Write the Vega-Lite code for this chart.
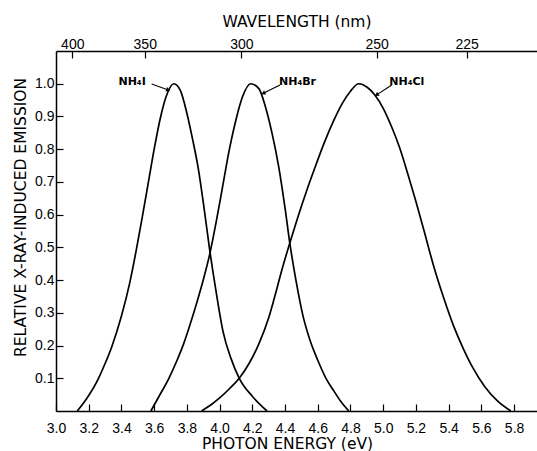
{
  "$schema": "https://vega.github.io/schema/vega-lite/v6.json",
  "width": 481,
  "height": 360,
  "autosize": {"type": "none"},
  "padding": {"left": 56, "top": 51, "right": 0, "bottom": 40},
  "background": "white",
  "config": {
    "view": {"stroke": null},
    "axis": {
      "domainColor": "black",
      "domainWidth": 1.5,
      "tickColor": "black",
      "tickWidth": 1.2,
      "tickSize": -7,
      "grid": false,
      "labelFont": "Liberation Sans",
      "labelFontSize": 14,
      "labelColor": "black",
      "titleFont": "DejaVu Sans",
      "titleFontSize": 15.5,
      "titleFontWeight": "normal",
      "titleColor": "black"
    }
  },
  "datasets": {
    "curves": [
      {"compound": "NH4I", "energy": 3.13, "emission": 0.0},
      {"compound": "NH4I", "energy": 3.19, "emission": 0.04},
      {"compound": "NH4I", "energy": 3.26, "emission": 0.1},
      {"compound": "NH4I", "energy": 3.3, "emission": 0.145},
      {"compound": "NH4I", "energy": 3.34, "emission": 0.195},
      {"compound": "NH4I", "energy": 3.4, "emission": 0.29},
      {"compound": "NH4I", "energy": 3.45, "emission": 0.39},
      {"compound": "NH4I", "energy": 3.49, "emission": 0.49},
      {"compound": "NH4I", "energy": 3.53, "emission": 0.6},
      {"compound": "NH4I", "energy": 3.565, "emission": 0.7},
      {"compound": "NH4I", "energy": 3.6, "emission": 0.8},
      {"compound": "NH4I", "energy": 3.64, "emission": 0.9},
      {"compound": "NH4I", "energy": 3.68, "emission": 0.97},
      {"compound": "NH4I", "energy": 3.72, "emission": 1.0},
      {"compound": "NH4I", "energy": 3.76, "emission": 0.98},
      {"compound": "NH4I", "energy": 3.8, "emission": 0.91},
      {"compound": "NH4I", "energy": 3.835, "emission": 0.83},
      {"compound": "NH4I", "energy": 3.87, "emission": 0.74},
      {"compound": "NH4I", "energy": 3.905, "emission": 0.62},
      {"compound": "NH4I", "energy": 3.94, "emission": 0.49},
      {"compound": "NH4I", "energy": 3.98, "emission": 0.36},
      {"compound": "NH4I", "energy": 4.02, "emission": 0.245},
      {"compound": "NH4I", "energy": 4.07, "emission": 0.16},
      {"compound": "NH4I", "energy": 4.12, "emission": 0.1},
      {"compound": "NH4I", "energy": 4.2, "emission": 0.045},
      {"compound": "NH4I", "energy": 4.29, "emission": 0.0},
      {"compound": "NH4Br", "energy": 3.58, "emission": 0.0},
      {"compound": "NH4Br", "energy": 3.63, "emission": 0.045},
      {"compound": "NH4Br", "energy": 3.69, "emission": 0.1},
      {"compound": "NH4Br", "energy": 3.74, "emission": 0.155},
      {"compound": "NH4Br", "energy": 3.78, "emission": 0.205},
      {"compound": "NH4Br", "energy": 3.82, "emission": 0.265},
      {"compound": "NH4Br", "energy": 3.86, "emission": 0.33},
      {"compound": "NH4Br", "energy": 3.9, "emission": 0.4},
      {"compound": "NH4Br", "energy": 3.94, "emission": 0.48},
      {"compound": "NH4Br", "energy": 3.98, "emission": 0.58},
      {"compound": "NH4Br", "energy": 4.02, "emission": 0.69},
      {"compound": "NH4Br", "energy": 4.06, "emission": 0.8},
      {"compound": "NH4Br", "energy": 4.1, "emission": 0.89},
      {"compound": "NH4Br", "energy": 4.14, "emission": 0.96},
      {"compound": "NH4Br", "energy": 4.19, "emission": 1.0},
      {"compound": "NH4Br", "energy": 4.24, "emission": 0.985},
      {"compound": "NH4Br", "energy": 4.28, "emission": 0.93},
      {"compound": "NH4Br", "energy": 4.32, "emission": 0.85},
      {"compound": "NH4Br", "energy": 4.36, "emission": 0.75},
      {"compound": "NH4Br", "energy": 4.4, "emission": 0.62},
      {"compound": "NH4Br", "energy": 4.43, "emission": 0.51},
      {"compound": "NH4Br", "energy": 4.47, "emission": 0.39},
      {"compound": "NH4Br", "energy": 4.51, "emission": 0.29},
      {"compound": "NH4Br", "energy": 4.55, "emission": 0.22},
      {"compound": "NH4Br", "energy": 4.6, "emission": 0.155},
      {"compound": "NH4Br", "energy": 4.65, "emission": 0.1},
      {"compound": "NH4Br", "energy": 4.7, "emission": 0.06},
      {"compound": "NH4Br", "energy": 4.74, "emission": 0.03},
      {"compound": "NH4Br", "energy": 4.79, "emission": 0.0},
      {"compound": "NH4Cl", "energy": 3.89, "emission": 0.0},
      {"compound": "NH4Cl", "energy": 3.95, "emission": 0.02},
      {"compound": "NH4Cl", "energy": 4.0, "emission": 0.04},
      {"compound": "NH4Cl", "energy": 4.06, "emission": 0.068},
      {"compound": "NH4Cl", "energy": 4.12, "emission": 0.1},
      {"compound": "NH4Cl", "energy": 4.18, "emission": 0.145},
      {"compound": "NH4Cl", "energy": 4.24, "emission": 0.205},
      {"compound": "NH4Cl", "energy": 4.3, "emission": 0.285},
      {"compound": "NH4Cl", "energy": 4.34, "emission": 0.355},
      {"compound": "NH4Cl", "energy": 4.38, "emission": 0.43},
      {"compound": "NH4Cl", "energy": 4.43, "emission": 0.515},
      {"compound": "NH4Cl", "energy": 4.48, "emission": 0.595},
      {"compound": "NH4Cl", "energy": 4.53, "emission": 0.67},
      {"compound": "NH4Cl", "energy": 4.58, "emission": 0.74},
      {"compound": "NH4Cl", "energy": 4.64, "emission": 0.82},
      {"compound": "NH4Cl", "energy": 4.7, "emission": 0.89},
      {"compound": "NH4Cl", "energy": 4.75, "emission": 0.94},
      {"compound": "NH4Cl", "energy": 4.8, "emission": 0.977},
      {"compound": "NH4Cl", "energy": 4.85, "emission": 1.0},
      {"compound": "NH4Cl", "energy": 4.9, "emission": 0.99},
      {"compound": "NH4Cl", "energy": 4.95, "emission": 0.965},
      {"compound": "NH4Cl", "energy": 5.0, "emission": 0.925},
      {"compound": "NH4Cl", "energy": 5.05, "emission": 0.87},
      {"compound": "NH4Cl", "energy": 5.1, "emission": 0.805},
      {"compound": "NH4Cl", "energy": 5.15, "emission": 0.725},
      {"compound": "NH4Cl", "energy": 5.2, "emission": 0.64},
      {"compound": "NH4Cl", "energy": 5.25, "emission": 0.55},
      {"compound": "NH4Cl", "energy": 5.31, "emission": 0.44},
      {"compound": "NH4Cl", "energy": 5.37, "emission": 0.345},
      {"compound": "NH4Cl", "energy": 5.43, "emission": 0.26},
      {"compound": "NH4Cl", "energy": 5.49, "emission": 0.19},
      {"compound": "NH4Cl", "energy": 5.55, "emission": 0.13},
      {"compound": "NH4Cl", "energy": 5.62, "emission": 0.075},
      {"compound": "NH4Cl", "energy": 5.7, "emission": 0.03},
      {"compound": "NH4Cl", "energy": 5.78, "emission": 0.0}
    ],
    "labels": [
      {"compound": "NH4I", "text": "NH₄I", "energy": 3.465, "emission": 1.005},
      {"compound": "NH4Br", "text": "NH₄Br", "energy": 4.476, "emission": 1.005},
      {"compound": "NH4Cl", "text": "NH₄Cl", "energy": 5.144, "emission": 1.005}
    ],
    "arrows": [
      {"compound": "NH4I", "x1": 3.585, "y1": 0.999, "x2": 3.686, "y2": 0.981},
      {"compound": "NH4Br", "x1": 4.369, "y1": 0.996, "x2": 4.267, "y2": 0.971},
      {"compound": "NH4Cl", "x1": 5.052, "y1": 0.996, "x2": 4.96, "y2": 0.966}
    ]
  },
  "resolve": {"axis": {"x": "independent"}},
  "layer": [
    {
      "data": {"name": "curves"},
      "mark": {"type": "line", "interpolate": "monotone", "stroke": "black", "strokeWidth": 1.7},
      "encoding": {
        "x": {
          "field": "energy", "type": "quantitative",
          "scale": {"domain": [3.0, 5.94], "nice": false, "zero": false},
          "axis": {
            "orient": "bottom",
            "values": [3.0, 3.2, 3.4, 3.6, 3.8, 4.0, 4.2, 4.4, 4.6, 4.8, 5.0, 5.2, 5.4, 5.6, 5.8],
            "format": ".1f",
            "labelPadding": 17,
            "labelFlush": false,
            "labelOverlap": false,
            "title": "PHOTON ENERGY (eV)",
            "titleX": 231,
            "titleY": 37,
            "titleBaseline": "alphabetic"
          }
        },
        "y": {
          "field": "emission", "type": "quantitative",
          "scale": {"domain": [0, 1.1], "nice": false},
          "axis": {"values": [0.1, 0.2, 0.3, 0.4, 0.5, 0.6, 0.7, 0.8, 0.9, 1.0], "format": ".1f", "labelPadding": 9, "title": "RELATIVE X-RAY-INDUCED EMISSION", "titleAngle": -90, "titleX": -36, "titleY": 166, "titleAlign": "center", "titleBaseline": "middle"}
        },
        "detail": {"field": "compound"}
      }
    },
    {
      "data": {"name": "arrows"},
      "mark": {"type": "rule", "stroke": "black", "strokeWidth": 1.1},
      "encoding": {
        "x": {
          "field": "x1", "type": "quantitative",
          "scale": {"domain": [3.0, 5.94], "nice": false, "zero": false},
          "axis": {
            "orient": "top",
            "values": [3.0996, 3.5424, 4.1328, 4.9594, 5.5104],
            "labelExpr": "format(1239.84 / datum.value, '.0f')",
            "labelPadding": 7,
            "labelFlush": false,
            "title": "WAVELENGTH (nm)",
            "titleY": -25,
            "titleBaseline": "alphabetic"
          }
        },
        "y": {"field": "y1", "type": "quantitative", "scale": {"domain": [0, 1.1], "nice": false},
          "axis": {"values": [0.1, 0.2, 0.3, 0.4, 0.5, 0.6, 0.7, 0.8, 0.9, 1.0], "format": ".1f", "labelPadding": 9, "title": "RELATIVE X-RAY-INDUCED EMISSION", "titleAngle": -90, "titleX": -36, "titleY": 166, "titleAlign": "center", "titleBaseline": "middle"}},
        "x2": {"field": "x2"},
        "y2": {"field": "y2"}
      }
    },
    {
      "data": {"name": "labels"},
      "mark": {"type": "text", "font": "DejaVu Sans", "fontSize": 11, "fontWeight": "bold", "fill": "black", "align": "center", "baseline": "middle"},
      "encoding": {
        "x": {"field": "energy", "type": "quantitative", "scale": {"domain": [3.0, 5.94], "nice": false, "zero": false}, "axis": null},
        "y": {"field": "emission", "type": "quantitative", "scale": {"domain": [0, 1.1], "nice": false},
          "axis": {"values": [0.1, 0.2, 0.3, 0.4, 0.5, 0.6, 0.7, 0.8, 0.9, 1.0], "format": ".1f", "labelPadding": 9, "title": "RELATIVE X-RAY-INDUCED EMISSION", "titleAngle": -90, "titleX": -36, "titleY": 166, "titleAlign": "center", "titleBaseline": "middle"}},
        "text": {"field": "text"}
      }
    },
    {
      "data": {"name": "arrows"},
      "transform": [{"filter": "datum.compound === 'NH4I'"}],
      "mark": {"type": "point", "shape": "triangle-right", "filled": true, "fill": "black", "size": 22, "angle": 20, "opacity": 1},
      "encoding": {
        "x": {"field": "x2", "type": "quantitative", "scale": {"domain": [3.0, 5.94], "nice": false, "zero": false}, "axis": null},
        "y": {"field": "y2", "type": "quantitative", "scale": {"domain": [0, 1.1], "nice": false},
          "axis": {"values": [0.1, 0.2, 0.3, 0.4, 0.5, 0.6, 0.7, 0.8, 0.9, 1.0], "format": ".1f", "labelPadding": 9, "title": "RELATIVE X-RAY-INDUCED EMISSION", "titleAngle": -90, "titleX": -36, "titleY": 166, "titleAlign": "center", "titleBaseline": "middle"}}
      }
    },
    {
      "data": {"name": "arrows"},
      "transform": [{"filter": "datum.compound === 'NH4Br'"}],
      "mark": {"type": "point", "shape": "triangle-right", "filled": true, "fill": "black", "size": 22, "angle": 153, "opacity": 1},
      "encoding": {
        "x": {"field": "x2", "type": "quantitative", "scale": {"domain": [3.0, 5.94], "nice": false, "zero": false}, "axis": null},
        "y": {"field": "y2", "type": "quantitative", "scale": {"domain": [0, 1.1], "nice": false},
          "axis": {"values": [0.1, 0.2, 0.3, 0.4, 0.5, 0.6, 0.7, 0.8, 0.9, 1.0], "format": ".1f", "labelPadding": 9, "title": "RELATIVE X-RAY-INDUCED EMISSION", "titleAngle": -90, "titleX": -36, "titleY": 166, "titleAlign": "center", "titleBaseline": "middle"}}
      }
    },
    {
      "data": {"name": "arrows"},
      "transform": [{"filter": "datum.compound === 'NH4Cl'"}],
      "mark": {"type": "point", "shape": "triangle-right", "filled": true, "fill": "black", "size": 22, "angle": 146, "opacity": 1},
      "encoding": {
        "x": {"field": "x2", "type": "quantitative", "scale": {"domain": [3.0, 5.94], "nice": false, "zero": false}, "axis": null},
        "y": {"field": "y2", "type": "quantitative", "scale": {"domain": [0, 1.1], "nice": false},
          "axis": {"values": [0.1, 0.2, 0.3, 0.4, 0.5, 0.6, 0.7, 0.8, 0.9, 1.0], "format": ".1f", "labelPadding": 9, "title": "RELATIVE X-RAY-INDUCED EMISSION", "titleAngle": -90, "titleX": -36, "titleY": 166, "titleAlign": "center", "titleBaseline": "middle"}}
      }
    }
  ]
}
